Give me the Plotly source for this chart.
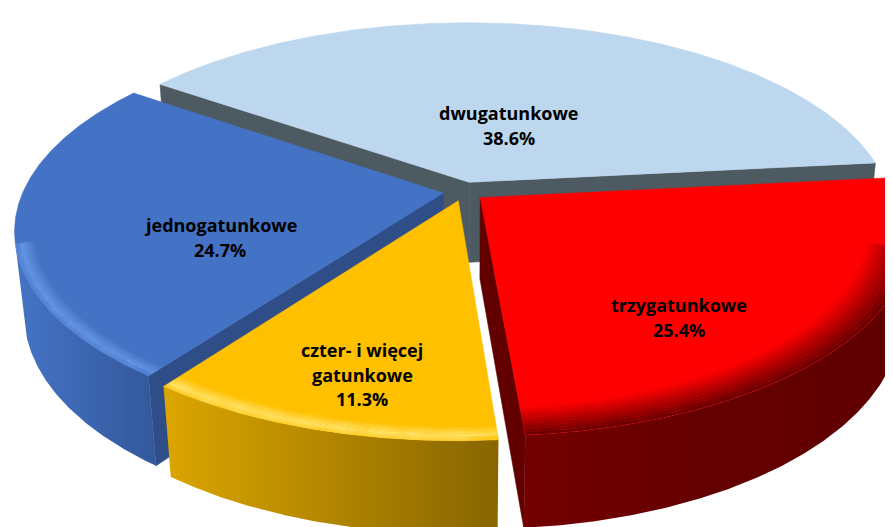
import numpy as np
import plotly.graph_objects as go

# ---------------- data ----------------
categories = ["jednogatunkowe", "dwugatunkowe", "trzygatunkowe", "czter- i więcej<br>gatunkowe"]
values = [24.7, 38.6, 25.4, 11.3]

# ---------------- style ----------------
start_angle = 216.1          # degrees, clockwise from 12 o'clock (far side)
explode = [0.05, 0.05, 0.05, 0.05]
top_colors = ["#4472C4", "#BDD7EE", "#FF0000", "#FFC000"]
radial_colors = ["#2F4E88", "#4D5A62", "#620000", "#9A7400"]
wall_scales = [
    [[0, "#4574C6"], [1, "#33589C"]],
    [[0, "#8FA6BC"], [1, "#6E8499"]],
    [[0, "#740000"], [0.5, "#640000"], [1, "#600000"]],
    [[0, "#DCA600"], [1, "#876500"]],
]
# smooth rim shading: (r_start, r_end, rgb, alpha_start, alpha_end)
bevels = [
    [(0.955, 0.988, (110, 160, 238), 0.0, 0.85), (0.988, 1.0, (110, 160, 238), 0.85, 0.4)],
    [],
    [(0.90, 1.0, (100, 0, 0), 0.0, 1.0)],
    [(0.95, 0.985, (255, 232, 120), 0.0, 0.95), (0.985, 1.0, (255, 232, 120), 0.95, 0.5)],
]
bevel_steps = 10
label_pos = [(212, 217), (501, 105), (671, 297), (354, 342)]   # pixel centre of first line
line_gap = 24.5

W, H_PX = 893, 527
theta = np.radians(27.2)
st, ct = np.sin(theta), np.cos(theta)
Dd = 4.84
f = 2033.0
cx, cy = 456.0, 183.5
Hh = 0.22


def proj(X, Y, Z):
    X, Y, Z = np.asarray(X, float), np.asarray(Y, float), np.asarray(Z, float)
    depth = Dd - Y * st - Z * ct
    px = cx + f * X / depth
    py = cy - f * (Y * ct - Z * st) / depth
    return px, py


cam = np.array([0.0, Dd * st, Dd * ct])

fig = go.Figure()


def poly(xs, ys, color=None, grad=None, edge=True):
    xs = list(xs) + [xs[0]]
    ys = list(ys) + [ys[0]]
    kw = dict(x=xs, y=ys, fill="toself", mode="lines", hoverinfo="skip", showlegend=False)
    if grad is not None:
        kw["fillgradient"] = dict(type="horizontal", colorscale=grad)
        kw["line"] = dict(width=0)
        kw["fillcolor"] = grad[0][1]
    else:
        kw["fillcolor"] = color
        kw["line"] = dict(width=0.6 if edge else 0, color=color)
    fig.add_trace(go.Scatter(**kw))


total = sum(values)
slices = []
a = start_angle
for i, v in enumerate(values):
    span = v / total * 360.0
    slices.append((i, a, a + span))
    a += span

# draw far slices first
order = sorted(slices, key=lambda s: -np.cos(np.radians((s[1] + s[2]) / 2)))

for i, a0, a1 in order:
    mid = np.radians((a0 + a1) / 2)
    ox, oz = explode[i] * np.sin(mid), -explode[i] * np.cos(mid)
    phis = np.radians(np.linspace(a0, a1, 240))
    X = ox + np.sin(phis)
    Z = oz - np.cos(phis)

    # radial walls
    for ang, sign in ((a0, -1), (a1, 1)):
        r = np.radians(ang)
        n = sign * np.array([np.cos(r), 0, np.sin(r)])
        if np.dot(n, cam - np.array([ox, 0, oz])) > 0:
            ex, ez = ox + np.sin(r), oz - np.cos(r)
            px, py = proj([ox, ex, ex, ox], [0, 0, -Hh, -Hh], [oz, ez, ez, oz])
            poly(px, py, color=radial_colors[i])

    # outer wall (visible part)
    vis = (np.sin(phis) * (cam[0] - X) + (-np.cos(phis)) * (cam[2] - Z)) > 0
    idx = np.where(vis)[0]
    if len(idx) > 1:
        Xv, Zv = X[idx], Z[idx]
        tx, ty = proj(Xv, np.zeros_like(Xv), Zv)
        bx, by = proj(Xv, -Hh * np.ones_like(Xv), Zv)
        poly(np.concatenate([tx, bx[::-1]]), np.concatenate([ty, by[::-1]]), grad=wall_scales[i])

    # top face
    tx, ty = proj(np.concatenate([[ox], X]), np.zeros(len(X) + 1), np.concatenate([[oz], Z]))
    poly(tx, ty, color=top_colors[i])

    # smooth shading on the front rim
    if len(idx) > 1:
        ph = phis[idx]
        for r0, r1, rgb, al0, al1 in bevels[i]:
            edges = np.linspace(r0, r1, bevel_steps + 1)
            for k in range(bevel_steps):
                r_in, r_out = edges[k], edges[k + 1]
                al = al0 + (al1 - al0) * (k + 0.5) / bevel_steps
                col = "rgba(%d,%d,%d,%.3f)" % (rgb + (al,))
                Xo, Zo = ox + r_out * np.sin(ph), oz - r_out * np.cos(ph)
                Xi, Zi = ox + r_in * np.sin(ph), oz - r_in * np.cos(ph)
                ox_, oy_ = proj(Xo, np.zeros_like(Xo), Zo)
                ix_, iy_ = proj(Xi, np.zeros_like(Xi), Zi)
                poly(np.concatenate([ox_, ix_[::-1]]), np.concatenate([oy_, iy_[::-1]]), color=col, edge=False)

# labels
for i, cat in enumerate(categories):
    lines = cat.split("<br>") + ["%.1f%%" % values[i]]
    lx, ly = label_pos[i]
    for k, t in enumerate(lines):
        fig.add_annotation(x=lx, y=ly + k * line_gap, text="<b>%s</b>" % t, showarrow=False,
                           font=dict(family="Open Sans", size=18, color="#000000"),
                           xanchor="center", yanchor="middle")

fig.update_layout(
    width=W, height=H_PX,
    margin=dict(l=0, r=0, t=0, b=0),
    paper_bgcolor="white", plot_bgcolor="white",
    xaxis=dict(range=[0, W], visible=False, fixedrange=True),
    yaxis=dict(range=[H_PX, 0], visible=False, fixedrange=True),
    showlegend=False,
)

fig.write_html("out.html")
